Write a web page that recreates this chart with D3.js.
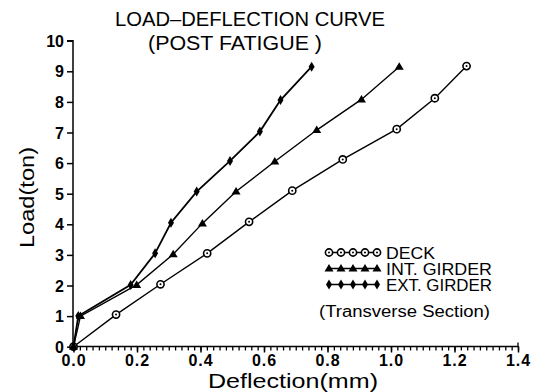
<!DOCTYPE html>
<html><head><meta charset="utf-8">
<script src="https://cdn.jsdelivr.net/npm/d3@7"></script>
<style>body{margin:0;background:#fff}svg{display:block}</style>
</head><body>
<svg id="c" width="538" height="392"></svg>
<script>
const loads = [0,1,2,3,4,5,6,7,8,9];
const deckDefl = [0,0.134,0.274,0.421,0.553,0.689,0.848,1.018,1.138,1.238];
const deckLoad = [0,1.05,2.04,3.05,4.08,5.10,6.12,7.11,8.12,9.17];
const intDefl  = [0,0.022,0.199,0.314,0.406,0.512,0.634,0.766,0.907,1.026];
const intLoad  = [0,1.0,2.02,3.02,4.03,5.07,6.05,7.08,8.08,9.15];
const extDefl  = [0,0.015,0.18,0.257,0.307,0.388,0.493,0.587,0.652,0.75];
const extLoad  = [0,1.0,2.02,3.05,4.05,5.07,6.07,7.03,8.06,9.15];
const yTicks = [0,1,2,3,4,5,6,7,8,9,10];
const xTicks = [0,0.2,0.4,0.6,0.8,1.0,1.2,1.4];
const seriesNames = ["DECK","INT.  GIRDER","EXT.  GIRDER"];

const svg = d3.select("#c");
const x = d3.scaleLinear().domain([0,1.4]).range([73.5,518]);
const y = d3.scaleLinear().domain([0,10]).range([346.7,40.7]);
const font = "'Liberation Sans', Arial, sans-serif";

// axes
const ya = svg.append("g").attr("transform","translate(73,0)")
  .call(d3.axisLeft(y).tickValues(yTicks).tickFormat(d3.format("d")).tickSize(6).tickPadding(3));
ya.selectAll("text").attr("font-family",font).attr("font-size",16).attr("font-weight","bold").attr("fill","#000").attr("dy","0.35em");
ya.selectAll("line,path").attr("stroke","#000").attr("stroke-width",1.5);
ya.select(".domain").attr("d","M-6,40.7H0V346.7");

const minor = d3.range(0,1.4001,0.02);
const xm = svg.append("g").attr("transform","translate(0,346.5)")
  .call(d3.axisBottom(x).tickValues(minor).tickFormat("").tickSize(4));
xm.selectAll("line,path").attr("stroke","#000").attr("stroke-width",1.3);
xm.select(".domain").attr("d","M73.5,0H518V-4");
const xa = svg.append("g").attr("transform","translate(0,346.5)")
  .call(d3.axisBottom(x).tickValues(xTicks).tickFormat(d3.format(".1f")).tickSize(6).tickPadding(3));
xa.select(".domain").remove();
xa.selectAll("line").attr("stroke","#000").attr("stroke-width",1.5);
xa.selectAll("text").attr("font-family",font).attr("font-size",16).attr("font-weight","bold").attr("fill","#000")
  .attr("letter-spacing",1).attr("dy","0.68em");

// titles
svg.append("text").attr("x",115).attr("y",26)
  .attr("font-family",font).attr("font-size",20).attr("textLength",270).attr("lengthAdjust","spacingAndGlyphs")
  .text("LOAD\u2013DEFLECTION  CURVE");
svg.append("text").attr("x",148).attr("y",50)
  .attr("font-family",font).attr("font-size",20).attr("textLength",174).attr("lengthAdjust","spacingAndGlyphs")
  .text("(POST  FATIGUE  )");
svg.append("text").attr("transform","translate(34,248) rotate(-90)")
  .attr("font-family",font).attr("font-size",20).attr("textLength",101).attr("lengthAdjust","spacingAndGlyphs")
  .text("Load(ton)");
svg.append("text").attr("x",208).attr("y",388)
  .attr("font-family",font).attr("font-size",21).attr("textLength",170).attr("lengthAdjust","spacingAndGlyphs")
  .text("Deflection(mm)");

// markers
function drawMarker(g, type, cx, cy) {
  if (type === 0) {
    g.append("circle").attr("cx",cx).attr("cy",cy).attr("r",3.6)
      .attr("fill","#fff").attr("stroke","#000").attr("stroke-width",1.6);
    g.append("circle").attr("cx",cx).attr("cy",cy).attr("r",1).attr("fill","#000");
  } else if (type === 1) {
    g.append("path").attr("d",`M${cx},${cy-4.5}L${cx+4.5},${cy+3}L${cx-4.5},${cy+3}Z`).attr("fill","#000");
  } else {
    g.append("path").attr("d",`M${cx},${cy-5}L${cx+3},${cy}L${cx},${cy+5}L${cx-3},${cy}Z`).attr("fill","#000");
  }
}

const series = [
  {d: deckDefl, l: deckLoad},
  {d: intDefl, l: intLoad},
  {d: extDefl, l: extLoad}
];
const line = d3.line().x(p=>x(p[0])).y(p=>y(p[1]));
series.forEach((s,i)=>{
  const pts = s.d.map((v,k)=>[v,s.l[k]]);
  svg.append("path").attr("d",line(pts)).attr("fill","none").attr("stroke","#000")
    .attr("stroke-width", i===2?1.8:1.4);
  const g = svg.append("g");
  pts.forEach(p=>drawMarker(g,i,x(p[0]),y(p[1])));
});

// legend
const lg = svg.append("g");
seriesNames.forEach((name,i)=>{
  const cy = 252.5 + i*16;
  lg.append("line").attr("x1",328).attr("x2",377).attr("y1",cy).attr("y2",cy).attr("stroke","#000").attr("stroke-width",1.4);
  for (let k=0;k<5;k++) drawMarker(lg,i,329+k*12,cy);
  lg.append("text").attr("x",386).attr("y",cy+6).attr("font-family",font).attr("font-size",16)
    .attr("textLength", i===0?49:(106)).attr("lengthAdjust","spacingAndGlyphs").text(name);
});
lg.append("text").attr("x",319).attr("y",317).attr("font-family",font).attr("font-size",16)
  .attr("textLength",171).attr("lengthAdjust","spacingAndGlyphs").text("(Transverse  Section)");
</script>
</body></html>
